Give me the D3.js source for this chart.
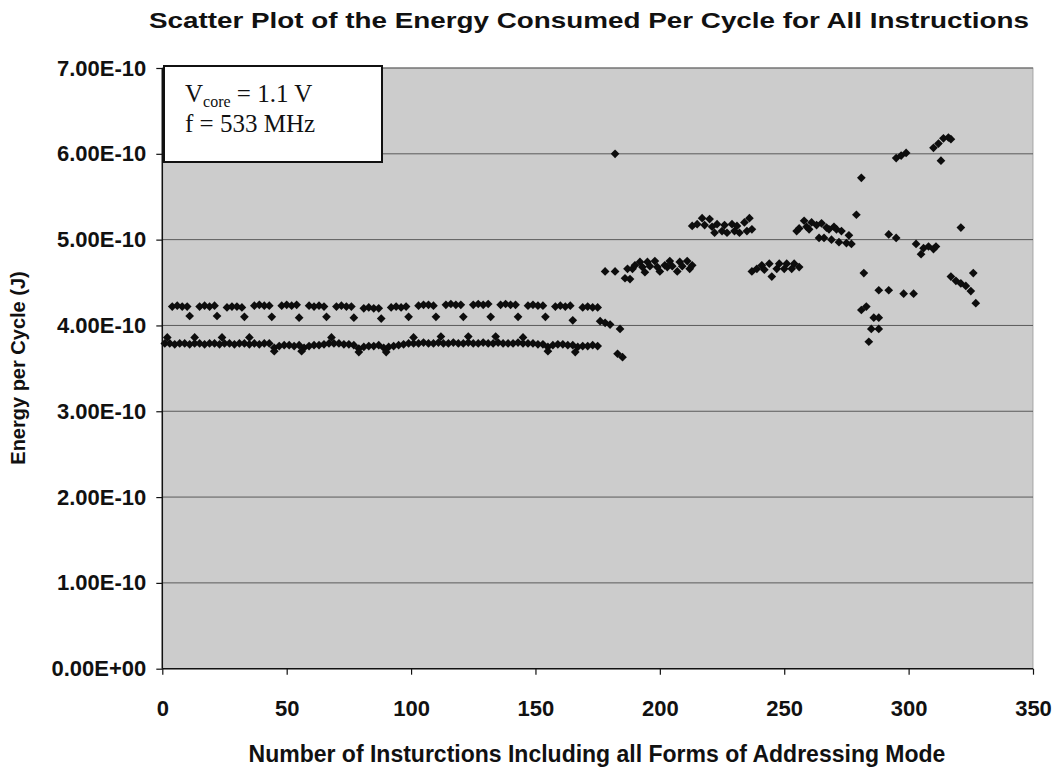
<!DOCTYPE html>
<html><head><meta charset="utf-8">
<script src="https://cdn.jsdelivr.net/npm/d3@7"></script>
<style>body{margin:0;background:#fff} svg{display:block}</style>
</head><body><svg id="chart" width="1060" height="769"></svg>
<script>
// ---- DATA (energy values in units of 1e-10 J) ----
const UNIT = 1e-10;
const chartTitle = "Scatter Plot of the Energy Consumed Per Cycle for All Instructions";
const xTitle = "Number of Insturctions Including all Forms of Addressing Mode";
const yTitle = "Energy per Cycle (J)";
const xTickValues = [0, 50, 100, 150, 200, 250, 300, 350];
const yTickValues = [0, 1, 2, 3, 4, 5, 6, 7];

// lower band ~3.8E-10
const baseRow = [[1,3.79],[3,3.79],[5,3.78],[7,3.79],[9,3.79],[11,3.78],[13,3.79],[15,3.79],[17,3.78],[19,3.79],
 [21,3.79],[23,3.78],[25,3.79],[27,3.79],[29,3.78],[31,3.79],[33,3.79],[35,3.78],[37,3.79],[39,3.78],[41,3.79],[43,3.79],
 [45,3.74],[47,3.76],[49,3.77],[51,3.77],[53,3.76],[55,3.77],[57,3.74],[59,3.76],[61,3.77],[63,3.77],[65,3.78],[67,3.79],
 [69,3.79],[71,3.79],[73,3.78],[75,3.78],[77,3.77],[79,3.73],[81,3.75],[83,3.76],[85,3.76],[87,3.77],[89,3.74],[91,3.75],
 [93,3.76],[95,3.77],[97,3.78],[99,3.79],[101,3.79],[103,3.79],[105,3.80],[107,3.79],[109,3.79],[111,3.80],[113,3.79],
 [115,3.79],[117,3.80],[119,3.79],[121,3.79],[123,3.80],[125,3.79],[127,3.79],[129,3.80],[131,3.79],[133,3.79],[135,3.80],
 [137,3.79],[139,3.79],[141,3.79],[143,3.80],[145,3.79],[147,3.79],[149,3.79],[151,3.78],[153,3.78],[155,3.75],[157,3.77],
 [159,3.78],[161,3.78],[163,3.77],[165,3.77],[167,3.75],[169,3.76],[171,3.76],[173,3.77],[175,3.76]];
const baseBumps = [[2,3.86],[13,3.86],[24,3.86],[35,3.86],[68,3.86],[101,3.86],[112,3.87],[123,3.87],[134,3.87],[145,3.86]];
const baseDips = [[45,3.70],[56,3.70],[79,3.69],[90,3.69],[155,3.70],[166,3.69]];

// upper band ~4.2E-10
const upperRow = [[4,4.22],[6,4.23],[8,4.22],[10,4.22],[15,4.22],[17,4.23],[19,4.22],[21,4.23],
 [26,4.21],[28,4.22],[30,4.22],[32,4.21],[37,4.23],[39,4.24],[41,4.23],[43,4.23],
 [48,4.23],[50,4.24],[52,4.23],[54,4.24],[59,4.23],[61,4.22],[63,4.23],[65,4.22],
 [70,4.22],[72,4.23],[74,4.22],[76,4.22],[81,4.20],[83,4.21],[85,4.20],[87,4.20],
 [92,4.21],[94,4.22],[96,4.21],[98,4.22],[103,4.23],[105,4.24],[107,4.24],[109,4.23],
 [114,4.24],[116,4.25],[118,4.24],[120,4.24],[125,4.24],[127,4.25],[129,4.24],[131,4.25],
 [136,4.24],[138,4.25],[140,4.24],[142,4.24],[147,4.23],[149,4.24],[151,4.23],[153,4.23],
 [158,4.22],[160,4.23],[162,4.22],[164,4.23],[169,4.21],[171,4.22],[173,4.21],[175,4.21]];
const midRow = [[11,4.11],[22,4.11],[33,4.10],[44,4.10],[55,4.09],[66,4.10],[77,4.09],[88,4.08],
 [99,4.10],[110,4.10],[121,4.10],[132,4.10],[143,4.10],[154,4.10],[165,4.06]];

// transition and higher groups
const transition = [[176,4.05],[178,4.03],[180,4.01],[184,3.96],[183,3.67],[185,3.63],
 [178,4.63],[182,4.63],[182,6.00],[186,4.55],[188,4.54]];
const groupA = [[187,4.66],[189,4.66],[190,4.70],[192,4.74],[193,4.68],[194,4.62],[195,4.74],[196,4.69],[198,4.75],
 [199,4.68],[200,4.63],[202,4.70],[203,4.68],[204,4.75],[205,4.69],[207,4.63],[208,4.74],[209,4.69],[211,4.75],
 [212,4.66],[213,4.70]];
const groupB = [[213,5.16],[215,5.18],[217,5.25],[218,5.17],[220,5.24],[221,5.15],[222,5.08],[223,5.18],[225,5.10],
 [226,5.17],[227,5.08],[229,5.18],[230,5.10],[231,5.16],[232,5.08],[234,5.20],[235,5.10],[236,5.25],[237,5.12]];
const groupC = [[237,4.63],[239,4.66],[241,4.70],[242,4.65],[244,4.72],[245,4.57],[247,4.66],[248,4.72],[250,4.66],
 [251,4.72],[253,4.66],[254,4.72],[256,4.68]];
const groupD = [[255,5.10],[256,5.13],[258,5.22],[259,5.15],[260,5.12],[261,5.20],[263,5.17],[264,5.02],[265,5.19],
 [266,5.02],[267,5.14],[268,5.12],[269,5.00],[270,5.15],[271,5.12],[272,4.97],[273,5.10],[275,4.96],[276,5.05],[277,4.95]];
const groupE = [[279,5.29],[281,5.72],[282,4.61],[281,4.18],[283,4.22],[284,3.81],[285,3.96],[288,3.96],[286,4.09],
 [288,4.09],[288,4.41],[292,4.41],[292,5.06],[295,5.02],[295,5.95],[297,5.98],[299,6.01],[298,4.37],[302,4.37],
 [303,4.95],[305,4.83],[306,4.90],[308,4.92],[310,4.89],[311,4.92],[310,6.07],[312,6.12],[314,6.18],[316,6.19],
 [317,6.17],[313,5.92],[321,5.14],[317,4.57],[319,4.52],[321,4.49],[323,4.46],[325,4.40],[326,4.61],[327,4.26]];

const allPoints = [].concat(baseRow, baseBumps, baseDips, upperRow, midRow, transition, groupA, groupB, groupC, groupD, groupE);

// ---- DRAW ----
const svg = d3.select("#chart");
const L = 162.3, R = 1033, T = 68, B = 668.7;
const x = d3.scaleLinear().domain([0, 350]).range([L, R]);
const y = d3.scaleLinear().domain([0, 7 * UNIT]).range([B, T]);
const sans = "'Liberation Sans', Arial, sans-serif";

function expFmt(v) {
  if (Math.abs(v) < 1e-20) return "0.00E+00";
  const e = Math.floor(Math.log10(Math.abs(v)) + 1e-9);
  const m = v / Math.pow(10, e);
  const ae = Math.abs(e);
  return m.toFixed(2) + "E" + (e < 0 ? "-" : "+") + (ae < 10 ? "0" + ae : ae);
}

// plot background
svg.append("rect").attr("x", L).attr("y", T).attr("width", R - L).attr("height", B - T)
  .attr("fill", "#cccccc").attr("stroke", "#9a9a9a").attr("stroke-width", 0.8);

// gridlines
svg.append("g").selectAll("line").data(yTickValues.filter(d => d > 0)).join("line")
  .attr("x1", L).attr("x2", R)
  .attr("y1", d => y(d * UNIT)).attr("y2", d => y(d * UNIT))
  .attr("stroke", "#5a5a5a").attr("stroke-width", 1);

// axes
const yAxis = d3.axisLeft(y).tickValues(yTickValues.map(d => d * UNIT)).tickFormat(expFmt).tickSize(6).tickPadding(10);
const gy = svg.append("g").attr("transform", `translate(${L},0)`).call(yAxis);
const xAxis = d3.axisBottom(x).tickValues(xTickValues).tickFormat(d3.format("d")).tickSize(6).tickPadding(26);
const gx = svg.append("g").attr("transform", `translate(0,${B})`).call(xAxis);
[gx, gy].forEach(g => {
  g.select(".domain").attr("stroke", "#111").attr("stroke-width", 1.5);
  g.selectAll(".tick line").attr("stroke", "#111").attr("stroke-width", 1.2);
  g.selectAll(".tick text").attr("font-family", sans).attr("font-weight", "bold")
    .attr("font-size", 22).attr("fill", "#111");
});
gx.select(".domain").attr("d", `M${L},0H${R}`);
gy.select(".domain").attr("d", `M0,${B}V${T}`);

// points (diamonds)
const sym = d3.symbol().type(d3.symbolSquare).size(38);
svg.append("g").selectAll("path").data(allPoints).join("path")
  .attr("d", sym)
  .attr("transform", d => `translate(${x(d[0])},${y(d[1] * UNIT)}) rotate(45)`)
  .attr("fill", "#0d0d0d");

// annotation box
svg.append("rect").attr("x", 164).attr("y", 66).attr("width", 218).attr("height", 96)
  .attr("fill", "#fff").attr("stroke", "#111").attr("stroke-width", 2);
const serif = "'Liberation Serif', 'Times New Roman', serif";
const t1 = svg.append("text").attr("x", 185).attr("y", 101.5).attr("font-family", serif).attr("font-size", 25).attr("fill", "#111");
t1.append("tspan").text("V");
t1.append("tspan").attr("font-size", 16).attr("dy", 5).text("core");
t1.append("tspan").attr("dy", -5).text(" = 1.1 V");
svg.append("text").attr("x", 185).attr("y", 131.5).attr("font-family", serif).attr("font-size", 25).attr("fill", "#111")
  .text("f = 533 MHz");

// titles
svg.append("text").attr("x", 589).attr("y", 28).attr("text-anchor", "middle")
  .attr("font-family", sans).attr("font-weight", "bold").attr("font-size", 22).attr("fill", "#111")
  .attr("textLength", 880).attr("lengthAdjust", "spacingAndGlyphs").text(chartTitle);
svg.append("text").attr("x", 597).attr("y", 762).attr("text-anchor", "middle")
  .attr("font-family", sans).attr("font-weight", "bold").attr("font-size", 23).attr("fill", "#111").text(xTitle);
svg.append("text").attr("transform", "translate(25,368) rotate(-90)").attr("text-anchor", "middle")
  .attr("font-family", sans).attr("font-weight", "bold").attr("font-size", 20).attr("fill", "#111").text(yTitle);
</script></body></html>
